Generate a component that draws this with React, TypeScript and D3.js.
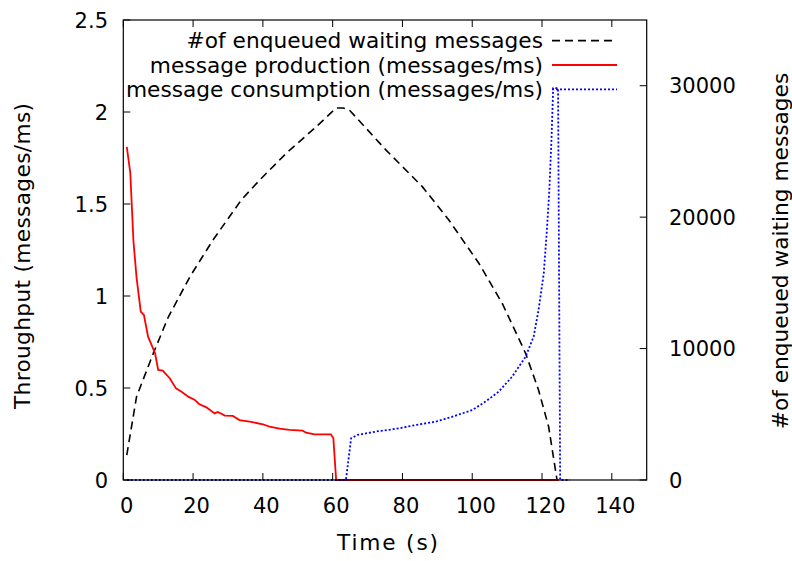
import React from 'react'
import { scaleLinear, line } from 'd3'

const WIDTH = 792
const HEIGHT = 561
const M = { left: 123.3, right: 646.7, top: 20, bottom: 480 }
const FONT = '"DejaVu Sans", Verdana, sans-serif'

const xTicks = [0, 20, 40, 60, 80, 100, 120, 140]
const yTicks = [0, 0.5, 1, 1.5, 2, 2.5]
const y2Ticks = [0, 10000, 20000, 30000]

// number of enqueued waiting messages (right axis)
const queueTime = [1, 3.8, 8.6, 12.9, 19.1, 25.7, 33.8, 39.1, 46.7, 55.3, 61, 63, 64.8, 75.3, 85.7, 93.3, 101.9, 108.6, 115.3, 119, 121.9, 124.3]
const queueCount = [1900, 6340, 9640, 12400, 15470, 18260, 21300, 22830, 24860, 26880, 28300, 28300, 28150, 25100, 22320, 19780, 16490, 13440, 9640, 6850, 4050, 0]

// message production (left axis)
const prodTime = [1, 2, 2.9, 3.8, 5, 5.9, 7.1, 9.1, 10, 11.3, 13.3, 15.1, 16.7, 18.6, 20.5, 21.7, 23.8, 26.2, 27.1, 29.1, 31.4, 33.3, 36.2, 40, 41.9, 44.8, 47.6, 51.4, 52.4, 54.8, 59.5, 60.2, 61, 124.8]
const prodRate = [1.81, 1.67, 1.3, 1.1, 0.915, 0.897, 0.779, 0.689, 0.598, 0.594, 0.553, 0.498, 0.48, 0.453, 0.435, 0.413, 0.395, 0.362, 0.37, 0.35, 0.348, 0.326, 0.317, 0.303, 0.29, 0.279, 0.272, 0.268, 0.257, 0.248, 0.248, 0.227, 0, 0]

// message consumption (left axis)
const consTime = [1, 63.8, 65.3, 67.1, 72.4, 79.1, 83.8, 89.5, 94.3, 100, 103.8, 107.6, 111.4, 115.3, 117.6, 119, 120.5, 121.4, 122.1, 122.7, 123.2, 124.6, 125.2, 128]
const consRate = [0, 0, 0.227, 0.245, 0.263, 0.281, 0.299, 0.317, 0.344, 0.38, 0.426, 0.48, 0.561, 0.67, 0.779, 0.924, 1.123, 1.359, 1.576, 1.848, 2.13, 2.13, 0, 0]

const legend = [
  { label: '#of enqueued waiting messages', color: 'black', dash: '8,5' },
  { label: 'message production (messages/ms)', color: '#ff0000', dash: null },
  { label: 'message consumption (messages/ms)', color: '#0000ff', dash: '2,2' },
]

const App = () => {
  const x = scaleLinear().domain([0, 150]).range([M.left, M.right])
  const y = scaleLinear().domain([0, 2.5]).range([M.bottom, M.top])
  const y2 = scaleLinear().domain([0, 35000]).range([M.bottom, M.top])

  const zip = (ts: number[], vs: number[]) => ts.map((t, i) => [t, vs[i]] as [number, number])
  const queuePath = line<[number, number]>().x(d => x(d[0])).y(d => y2(d[1]))
  const ratePath = line<[number, number]>().x(d => x(d[0])).y(d => y(d[1]))

  const tick = 7

  return (
    <svg width={WIDTH} height={HEIGHT} style={{ position: 'absolute', left: 0, top: 0, fontFamily: FONT }}>
      <rect width={WIDTH} height={HEIGHT} fill="white" />

      <path d={queuePath(zip(queueTime, queueCount)) || ''} fill="none" stroke="black" strokeWidth={1.6} strokeDasharray="8,5" />
      <path d={ratePath(zip(prodTime, prodRate)) || ''} fill="none" stroke="#ff0000" strokeWidth={1.8} />
      <path d={ratePath(zip(consTime, consRate)) || ''} fill="none" stroke="#0000ff" strokeWidth={1.8} strokeDasharray="2,2" />

      <rect x={M.left} y={M.top} width={M.right - M.left} height={M.bottom - M.top} fill="none" stroke="black" strokeWidth={1.2} />

      {xTicks.map(t => (
        <g key={'x' + t}>
          <line x1={x(t)} x2={x(t)} y1={M.bottom} y2={M.bottom - tick} stroke="black" />
          <line x1={x(t)} x2={x(t)} y1={M.top} y2={M.top + tick} stroke="black" />
          <text x={x(t) + 3.5} y={513} fontSize={21} textAnchor="middle">{t}</text>
        </g>
      ))}
      {yTicks.map(t => (
        <g key={'y' + t}>
          <line x1={M.left} x2={M.left + tick} y1={y(t)} y2={y(t)} stroke="black" />
          <text x={108} y={y(t) + 7.5} fontSize={21} textAnchor="end">{t}</text>
        </g>
      ))}
      {y2Ticks.map(t => (
        <g key={'y2' + t}>
          <line x1={M.right} x2={M.right - tick} y1={y2(t)} y2={y2(t)} stroke="black" />
          <text x={669} y={y2(t) + 7.5} fontSize={21} textAnchor="start">{t}</text>
        </g>
      ))}

      <text x={387.5} y={550} fontSize={21.7} textAnchor="middle" textLength={101} lengthAdjust="spacing">Time (s)</text>
      <text transform={`translate(30, 256) rotate(-90)`} fontSize={21.7} textAnchor="middle" textLength={306} lengthAdjust="spacing">Throughput (messages/ms)</text>
      <text transform={`translate(788, 251) rotate(-90)`} fontSize={21.7} textAnchor="middle">#of enqueued waiting messages</text>

      {legend.map((l, i) => {
        const ly = 40.7 + i * 24.3
        return (
          <g key={l.label}>
            <text x={543} y={ly + 7.5} fontSize={21.7} textAnchor="end">{l.label}</text>
            <line x1={552} x2={617} y1={ly} y2={ly} stroke={l.color} strokeWidth={1.8} strokeDasharray={l.dash || undefined} />
          </g>
        )
      })}
    </svg>
  )
}

export default App
